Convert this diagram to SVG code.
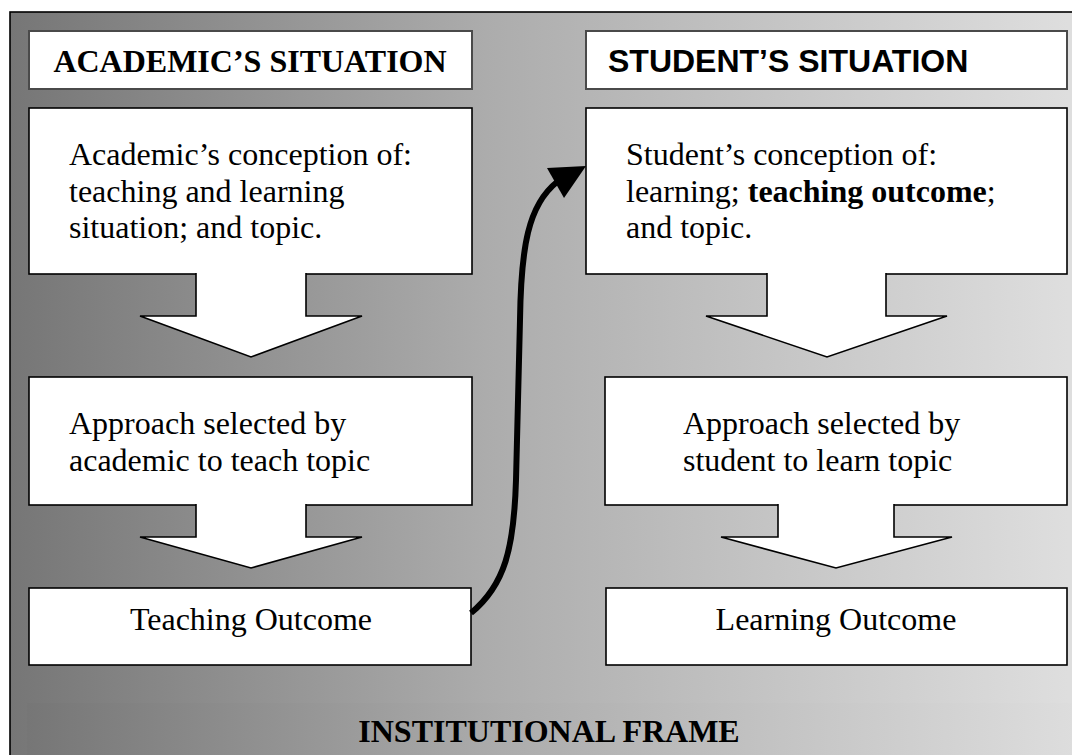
<svg xmlns="http://www.w3.org/2000/svg" width="1072" height="755" viewBox="0 0 1072 755">
  <defs>
    <linearGradient id="bg" gradientUnits="userSpaceOnUse" x1="10" y1="0" x2="1068" y2="0">
      <stop offset="0" stop-color="#767676"/>
      <stop offset="0.45" stop-color="#acacac"/>
      <stop offset="1" stop-color="#dedede"/>
    </linearGradient>
    <linearGradient id="band" gradientUnits="userSpaceOnUse" x1="27" y1="0" x2="1085" y2="0">
      <stop offset="0" stop-color="#767676"/>
      <stop offset="0.45" stop-color="#acacac"/>
      <stop offset="1" stop-color="#dedede"/>
    </linearGradient>
    <style>
      .box { fill: #ffffff; stroke: #000000; stroke-width: 1.6; }
      .hdr { fill: #ffffff; stroke: #4a4a4a; stroke-width: 2; }
      .blk { fill: #ffffff; stroke: #000000; stroke-width: 1.6; stroke-linejoin: miter; }
      .serif { font-family: "Liberation Serif", "Times New Roman", serif; font-size: 32px; fill: #000000; }
      .sans { font-family: "Liberation Sans", Arial, sans-serif; font-size: 32px; fill: #000000; }
      .b { font-weight: bold; }
      .mid { text-anchor: middle; }
      .conn { fill: none; stroke: #000000; stroke-width: 6; stroke-linecap: butt; }
    </style>
  </defs>

  <g id="frame">
    <rect x="10" y="12" width="1072" height="760" fill="url(#bg)" stroke="#000000" stroke-width="1.6"/>
    <rect x="27" y="703" width="1060" height="60" fill="url(#band)"/>
    <text class="serif b mid" x="549" y="742">INSTITUTIONAL FRAME</text>
  </g>

  <g id="academic-header">
    <rect class="hdr" x="29" y="31" width="443" height="58"/>
    <text class="serif b mid" x="250" y="72">ACADEMIC’S SITUATION</text>
  </g>

  <g id="academic-conception">
    <rect class="box" x="29" y="108" width="443" height="166"/>
    <text class="serif" x="69" y="165">Academic’s conception of:</text>
    <text class="serif" x="69" y="202">teaching and learning</text>
    <text class="serif" x="69" y="238">situation; and topic.</text>
  </g>

  <g id="academic-arrow-1">
    <path class="blk" d="M196,273 L196,316 L140,316 L251,357 L362,316 L306,316 L306,273"/>
  </g>

  <g id="academic-approach">
    <rect class="box" x="29" y="377" width="443" height="128"/>
    <text class="serif" x="69" y="434">Approach selected by</text>
    <text class="serif" x="69" y="471">academic to teach topic</text>
  </g>

  <g id="academic-arrow-2">
    <path class="blk" d="M196,504 L196,537 L140,537 L251,568 L362,537 L306,537 L306,504"/>
  </g>

  <g id="teaching-outcome">
    <rect class="box" x="29" y="588" width="442" height="77"/>
    <text class="serif mid" x="251" y="630">Teaching Outcome</text>
  </g>

  <g id="student-header">
    <rect class="hdr" x="586" y="31" width="481" height="58"/>
    <text class="sans b" x="608" y="72">STUDENT’S SITUATION</text>
  </g>

  <g id="student-conception">
    <rect class="box" x="586" y="108" width="481" height="166"/>
    <text class="serif" x="626" y="165">Student’s conception of:</text>
    <text class="serif" x="626" y="202">learning; <tspan class="b">teaching outcome</tspan>;</text>
    <text class="serif" x="626" y="238">and topic.</text>
  </g>

  <g id="student-arrow-1">
    <path class="blk" d="M767,273 L767,316 L706,316 L827,357 L947,316 L886,316 L886,273"/>
  </g>

  <g id="student-approach">
    <rect class="box" x="605" y="377" width="462" height="128"/>
    <text class="serif" x="683" y="434">Approach selected by</text>
    <text class="serif" x="683" y="471">student to learn topic</text>
  </g>

  <g id="student-arrow-2">
    <path class="blk" d="M778,504 L778,537 L721,537 L836,568 L952,537 L894,537 L894,504"/>
  </g>

  <g id="learning-outcome">
    <rect class="box" x="606" y="588" width="461" height="77"/>
    <text class="serif mid" x="836" y="630">Learning Outcome</text>
  </g>

  <g id="connectors">
    <path class="conn" d="M471,613 C505,585 514,548 516,480 L520,320 C521,248 528,205 557,182"/>
    <polygon points="586,166 547,168 564,198" fill="#000000"/>
  </g>
</svg>
